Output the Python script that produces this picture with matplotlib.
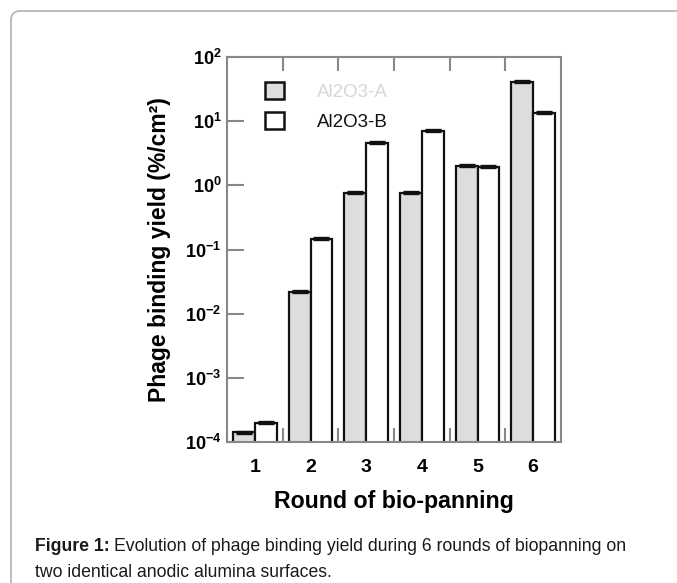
import matplotlib
matplotlib.use("Agg")
import matplotlib.pyplot as plt
import numpy as np
from matplotlib.patches import Patch, FancyBboxPatch

plt.rcParams['font.family'] = ['Liberation Sans', 'DejaVu Sans']
plt.rcParams['mathtext.fontset'] = 'custom'
plt.rcParams['mathtext.rm'] = 'Liberation Sans'
plt.rcParams['mathtext.bf'] = 'Liberation Sans:bold'
plt.rcParams['mathtext.default'] = 'bf'

rounds = ["1", "2", "3", "4", "5", "6"]
series_names = ["Al2O3-A", "Al2O3-B"]
yield_a = [1.4e-4, 0.022, 0.76, 0.75, 2.0, 41.0]
yield_b = [2.0e-4, 0.145, 4.6, 7.0, 1.95, 13.4]
err_a = [0.03e-4, 0.0008, 0.03, 0.03, 0.06, 1.5]
err_b = [0.05e-4, 0.006, 0.2, 0.3, 0.05, 0.6]
ytick_exps = [-4, -3, -2, -1, 0, 1, 2]

W, H = 677, 583
fig = plt.figure(figsize=(W / 100, H / 100), dpi=100)

# outer frame
frame = FancyBboxPatch((11, -30), 720, H - 11 + 30, boxstyle="round,pad=0,rounding_size=9",
                       transform=None, fill=False, edgecolor="#b8b8b8", linewidth=1.3)
fig.patches.append(frame)

ax = fig.add_axes([227 / W, 1 - 442 / H, (561 - 227) / W, (442 - 57) / H])
x = np.arange(len(rounds))
bw = 0.39
ax.bar(x - bw / 2, yield_a, bw, color="#dcdddc", edgecolor="#111111", linewidth=1.6,
       bottom=1e-6, zorder=2)
ax.bar(x + bw / 2, yield_b, bw, color="white", edgecolor="#111111", linewidth=1.6,
       bottom=1e-6, zorder=2)
ax.errorbar(x - bw / 2, yield_a, yerr=[np.zeros(6), err_a], fmt="none", ecolor="#111111",
            capsize=5.5, elinewidth=1.2, capthick=2.4, zorder=3)
ax.errorbar(x + bw / 2, yield_b, yerr=[np.zeros(6), err_b], fmt="none", ecolor="#111111",
            capsize=5.5, elinewidth=1.2, capthick=2.4, zorder=3)

ax.set_yscale("log")
ax.set_ylim(1e-4, 1e2)
ax.set_xlim(-0.5, len(rounds) - 0.5)
ax.set_yticks([10.0 ** e for e in ytick_exps])
ax.set_yticklabels([r"$10^{%d}$" % e for e in ytick_exps], fontsize=13)
ax.yaxis.set_minor_locator(matplotlib.ticker.NullLocator())
ax.tick_params(axis="y", direction="in", length=12, width=1.5, color="#888888", pad=4)

ax.set_xticks(x)
ax.set_xticklabels(rounds, fontsize=14, fontweight="bold")
ax.tick_params(axis="x", which="major", length=0, pad=12)
ax.set_xticks(x[:-1] + 0.5, minor=True)
ax.tick_params(axis="x", which="minor", direction="in", length=10, width=1.5,
               color="#888888", top=True, bottom=True)

for s in ax.spines.values():
    s.set_color("#888888")
    s.set_linewidth(1.5)

ax.set_ylabel("Phage binding yield (%/cm²)", fontsize=16.5, fontweight="bold", labelpad=10)
ax.set_xlabel("Round of bio-panning", fontsize=16.7, fontweight="bold", labelpad=10)

handles = [Patch(facecolor="#dcdddc", edgecolor="#111111", linewidth=1.8),
           Patch(facecolor="white", edgecolor="#111111", linewidth=1.8)]
leg = ax.legend(handles, series_names, loc="upper left",
                bbox_to_anchor=((265 - 227) / 334, 1 - (82 - 57) / 385),
                borderaxespad=0, borderpad=0,
                frameon=False, handlelength=1.0, handleheight=1.0, handletextpad=1.75,
                labelspacing=0.6, prop={"size": 13.5})
leg.get_texts()[0].set_color("#d6d6d6")
leg.get_texts()[1].set_color("#111111")

# caption
r = fig.canvas.get_renderer()
fs = 12.7
t1 = fig.text(35 / W, 1 - 551 / H, "Figure 1:", fontsize=fs, fontweight="bold",
              color="#1a1a1a", va="baseline")
bb = t1.get_window_extent(renderer=r)
fig.text((bb.x1 + 4) / W, 1 - 551 / H,
         "Evolution of phage binding yield during 6 rounds of biopanning on",
         fontsize=fs, color="#1a1a1a", va="baseline")
fig.text(35 / W, 1 - 577 / H, "two identical anodic alumina surfaces.",
         fontsize=fs, color="#1a1a1a", va="baseline")

fig.savefig("out.png", dpi=100)
